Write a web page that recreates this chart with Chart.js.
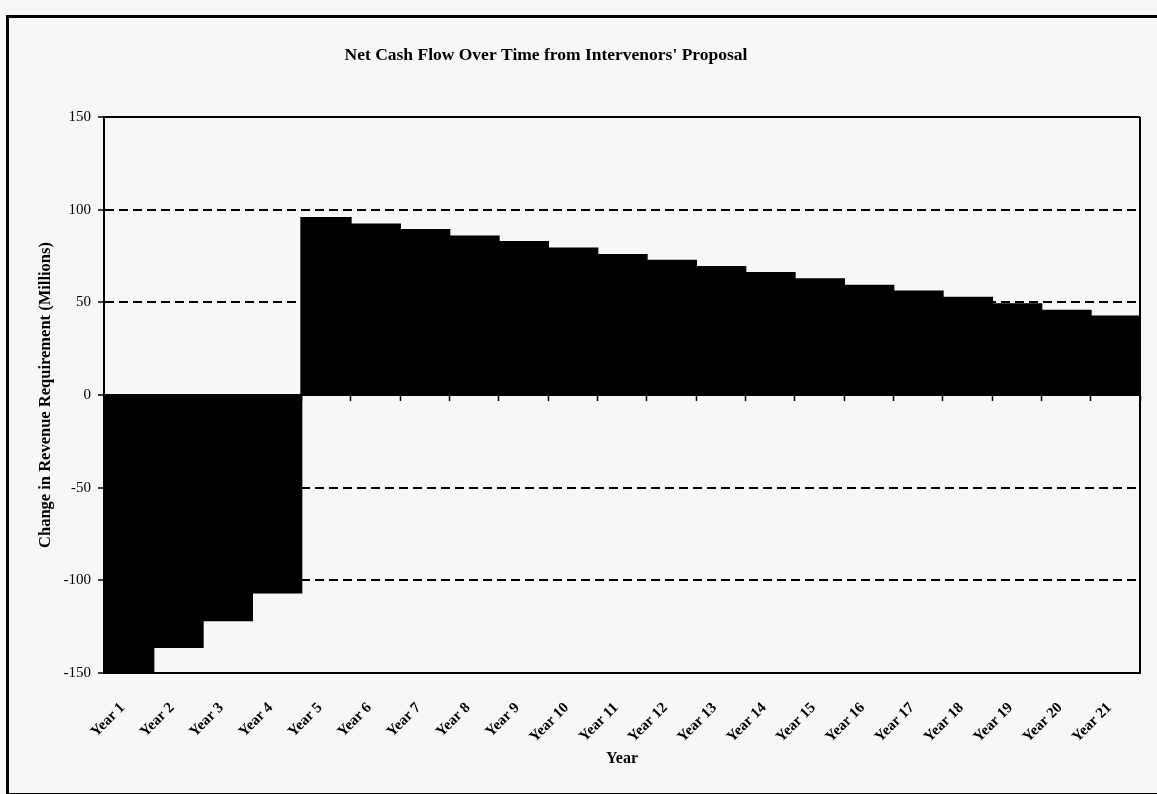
<!DOCTYPE html>
<html>
<head>
<meta charset="utf-8">
<script src="https://cdn.jsdelivr.net/npm/chart.js@4/dist/chart.umd.min.js"></script>
<style>
  html, body { margin: 0; padding: 0; background: #f7f7f7; overflow: hidden; }
  #page { position: relative; width: 1157px; height: 794px; background: #f7f7f7; overflow: hidden; }
  #frame { position: absolute; left: 6px; top: 15px; width: 1170px; height: 775px;
           border-left: 3px solid #000; border-top: 3px solid #000; border-bottom: 2px solid #000; }
  #wrap { position: absolute; left: -48px; top: 0; width: 1205px; height: 794px; }
</style>
</head>
<body>
<div id="page">
  <div id="frame"></div>
  <div id="wrap"><canvas id="c" width="1205" height="794"></canvas></div>
</div>
<script>
const categories = ['Year 1','Year 2','Year 3','Year 4','Year 5','Year 6','Year 7','Year 8','Year 9','Year 10','Year 11','Year 12','Year 13','Year 14','Year 15','Year 16','Year 17','Year 18','Year 19','Year 20','Year 21'];
const netCashFlow = [-150, -136, -121.5, -106.5, 95.5, 92, 89, 85.5, 82.5, 79, 75.5, 72.5, 69, 65.8, 62.4, 59, 55.8, 52.5, 49, 45.5, 42.3];
const yMin = -150;
const yMax = 150;
const yStep = 50;
const chartTitle = "Net Cash Flow Over Time from Intervenors' Proposal";
const yTitle = 'Change in Revenue Requirement (Millions)';
const xTitle = 'Year';

const serif = '"Liberation Serif", "Times New Roman", serif';

new Chart(document.getElementById('c'), {
  type: 'bar',
  data: {
    labels: categories,
    datasets: [{
      data: netCashFlow,
      backgroundColor: '#000',
      borderWidth: 0,
      inflateAmount: 1,
      barPercentage: 1,
      categoryPercentage: 1,
      xAxisID: 'x',
      yAxisID: 'y'
    }]
  },
  options: {
    responsive: false,
    animation: false,
    layout: { padding: { left: 0, right: 17, top: 0, bottom: 0 } },
    plugins: {
      legend: { display: false },
      tooltip: { enabled: false },
      title: {
        display: true,
        text: chartTitle,
        color: '#000',
        font: { family: serif, size: 17.5, weight: 'bold' },
        padding: { top: 45, bottom: 51 }
      }
    },
    scales: {
      x: {
        type: 'category',
        offset: true,
        grid: {
          offset: true,
          drawTicks: false,
          drawOnChartArea: true,
          color: ctx => ctx.type === 'scale' ? '#000' : 'rgba(0,0,0,0)',
          lineWidth: 2
        },
        border: { display: true, color: '#000', width: 2 },
        ticks: {
          color: '#000',
          font: { family: serif, size: 15, weight: 'bold' },
          minRotation: 45,
          maxRotation: 45,
          autoSkip: false,
          labelOffset: -6,
          padding: 26
        },
        title: {
          display: true,
          text: xTitle,
          color: '#000',
          font: { family: serif, size: 16, weight: 'bold' },
          padding: { top: 0, bottom: 26 }
        },
        afterFit: s => { s.height = 121; }
      },
      x2: {
        type: 'category',
        axis: 'x',
        labels: categories,
        offset: true,
        position: { y: 0 },
        grid: {
          offset: true,
          drawOnChartArea: false,
          drawTicks: true,
          tickLength: 5,
          tickColor: '#000',
          tickWidth: 1.5
        },
        border: { display: true, color: '#000', width: 2 },
        ticks: { display: false }
      },
      y: {
        min: yMin,
        max: yMax,
        ticks: {
          stepSize: yStep,
          color: '#000',
          font: { family: serif, size: 15 },
          padding: 7
        },
        grid: {
          color: '#000',
          lineWidth: 2,
          drawTicks: true,
          tickLength: 6,
          tickColor: '#000',
          tickWidth: 1.5
        },
        border: {
          display: true,
          color: '#000',
          width: 2,
          dash: ctx => (ctx.tick && ctx.tick.value !== 0 && Math.abs(ctx.tick.value) !== yMax) ? [9, 5] : []
        },
        title: {
          display: true,
          text: yTitle,
          color: '#000',
          font: { family: serif, size: 16.5, weight: 'bold' },
          padding: { top: 84, bottom: 0 }
        },
        afterFit: s => { s.width = 152; }
      }
    }
  }
});
</script>
</body>
</html>
